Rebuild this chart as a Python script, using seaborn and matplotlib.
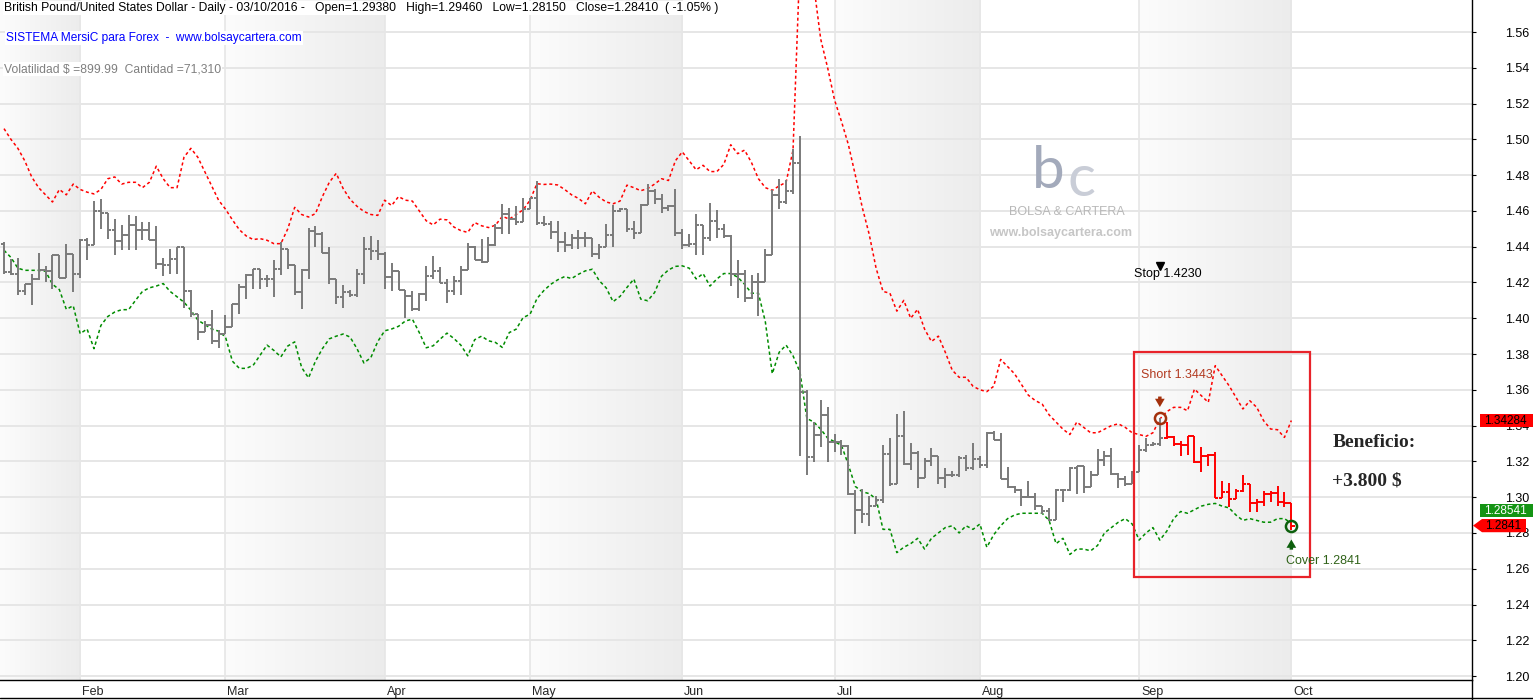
import numpy as np
import pandas as pd
import matplotlib
matplotlib.use("Agg")
import matplotlib.pyplot as plt
import matplotlib.transforms as mtransforms
from matplotlib.lines import Line2D
from matplotlib.patches import Rectangle, Polygon
from matplotlib.colors import LinearSegmentedColormap
import seaborn as sns

# ---------------- data ----------------
dates = pd.bdate_range("2016-01-15", "2016-10-03")

close = [
    1.4259, 1.4245, 1.4151, 1.4194, 1.4222, 1.4268, 1.4263, 1.4352, 1.4227, 1.4361,
    1.4250, 1.4436, 1.4412, 1.4600, 1.4591, 1.4496, 1.4432, 1.4468, 1.4524, 1.4492,
    1.4492, 1.4436, 1.4306, 1.4296, 1.4334, 1.4399, 1.4151, 1.4026, 1.3924, 1.3961,
    1.3871, 1.3914, 1.3952, 1.4082, 1.4175, 1.4240, 1.4278, 1.4222, 1.4222, 1.4278,
    1.4389, 1.4300, 1.4147, 1.4268, 1.4486, 1.4473, 1.4367, 1.4222, 1.4119, 1.4147,
    1.4129, 1.4250, 1.4389, 1.4375, 1.4361, 1.4231, 1.4264, 1.4159, 1.4122, 1.4051,
    1.4135, 1.4237, 1.4265, 1.4196, 1.4153, 1.4209, 1.4269, 1.4396, 1.4327, 1.4316,
    1.4409, 1.4502, 1.4582, 1.4554, 1.4539, 1.4610, 1.4670, 1.4535, 1.4526, 1.4483,
    1.4424, 1.4409, 1.4446, 1.4446, 1.4446, 1.4358, 1.4396, 1.4465, 1.4601, 1.4610,
    1.4498, 1.4476, 1.4632, 1.4712, 1.4666, 1.4619, 1.4629, 1.4474, 1.4410, 1.4417,
    1.4519, 1.4448, 1.4542, 1.4501, 1.4460, 1.4249, 1.4249, 1.4113, 1.4203, 1.4203,
    1.4352, 1.4687, 1.4650, 1.4709, 1.4870, 1.3590, 1.3224, 1.3345, 1.3461, 1.3308,
    1.3307, 1.3288, 1.3020, 1.2930, 1.2908, 1.2953, 1.2986, 1.3243, 1.3075, 1.3340,
    1.3188, 1.3247, 1.3107, 1.3201, 1.3229, 1.3107, 1.3126, 1.3126, 1.3219, 1.3163,
    1.3214, 1.3177, 1.3359, 1.3322, 1.3102, 1.3057, 1.3042, 1.3001, 1.3001, 1.2953,
    1.2921, 1.2875, 1.3042, 1.3042, 1.3163, 1.3176, 1.3057, 1.3126, 1.3206, 1.3229,
    1.3132, 1.3102, 1.3073, 1.3139, 1.3265, 1.3291, 1.3297, 1.3330, 1.3334, 1.3297,
    1.3291, 1.3340, 1.3195, 1.3232, 1.3236, 1.2996, 1.3027, 1.2989, 1.3036, 1.3073,
    1.2967, 1.2971, 1.3017, 1.3023, 1.2971, 1.2967, 1.2841,
]
high = [
    1.4427, 1.4334, 1.4337, 1.4194, 1.4250, 1.4367, 1.4293, 1.4356, 1.4356, 1.4414,
    1.4361, 1.4442, 1.4449, 1.4654, 1.4665, 1.4591, 1.4553, 1.4520, 1.4580, 1.4572,
    1.4539, 1.4539, 1.4514, 1.4337, 1.4389, 1.4399, 1.4324, 1.4157, 1.4007, 1.3983,
    1.4045, 1.3933, 1.4017, 1.4082, 1.4194, 1.4250, 1.4278, 1.4244, 1.4244, 1.4324,
    1.4427, 1.4389, 1.4300, 1.4278, 1.4505, 1.4516, 1.4483, 1.4399, 1.4222, 1.4185,
    1.4157, 1.4278, 1.4455, 1.4460, 1.4436, 1.4370, 1.4310, 1.4260, 1.4153, 1.4153,
    1.4140, 1.4293, 1.4349, 1.4284, 1.4219, 1.4237, 1.4293, 1.4420, 1.4405, 1.4442,
    1.4452, 1.4526, 1.4638, 1.4619, 1.4629, 1.4670, 1.4675, 1.4768, 1.4569, 1.4545,
    1.4545, 1.4480, 1.4470, 1.4494, 1.4483, 1.4414, 1.4414, 1.4526, 1.4632, 1.4619,
    1.4610, 1.4545, 1.4638, 1.4750, 1.4722, 1.4694, 1.4632, 1.4722, 1.4500, 1.4472,
    1.4585, 1.4519, 1.4646, 1.4603, 1.4529, 1.4467, 1.4324, 1.4268, 1.4240, 1.4255,
    1.4389, 1.4715, 1.4780, 1.4771, 1.4948, 1.5018, 1.3600, 1.3420, 1.3541, 1.3503,
    1.3355, 1.3322, 1.3294, 1.3042, 1.3046, 1.3005, 1.3009, 1.3294, 1.3331, 1.3467,
    1.3480, 1.3303, 1.3257, 1.3219, 1.3275, 1.3173, 1.3163, 1.3145, 1.3232, 1.3238,
    1.3300, 1.3229, 1.3363, 1.3368, 1.3359, 1.3169, 1.3061, 1.3046, 1.3089, 1.3024,
    1.2949, 1.2940, 1.3046, 1.3046, 1.3169, 1.3176, 1.3150, 1.3145, 1.3270, 1.3257,
    1.3275, 1.3135, 1.3120, 1.3148, 1.3290, 1.3329, 1.3306, 1.3443, 1.3420, 1.3344,
    1.3316, 1.3344, 1.3340, 1.3278, 1.3241, 1.3250, 1.3092, 1.3079, 1.3045, 1.3124,
    1.3064, 1.2989, 1.3036, 1.3036, 1.3064, 1.3027, 1.2946,
]
low = [
    1.4250, 1.4240, 1.4129, 1.4129, 1.4076, 1.4212, 1.4203, 1.4166, 1.4227, 1.4227,
    1.4147, 1.4225, 1.4324, 1.4412, 1.4501, 1.4445, 1.4352, 1.4380, 1.4380, 1.4380,
    1.4436, 1.4436, 1.4278, 1.4237, 1.4250, 1.4250, 1.4058, 1.4007, 1.3877, 1.3924,
    1.3858, 1.3834, 1.3914, 1.3952, 1.4026, 1.4106, 1.4166, 1.4166, 1.4175, 1.4119,
    1.4240, 1.4278, 1.4129, 1.4054, 1.4222, 1.4399, 1.4367, 1.4194, 1.4082, 1.4058,
    1.4119, 1.4119, 1.4194, 1.4324, 1.4324, 1.4166, 1.4150, 1.4159, 1.4004, 1.4042,
    1.4042, 1.4098, 1.4219, 1.4196, 1.4088, 1.4129, 1.4129, 1.4269, 1.4327, 1.4308,
    1.4405, 1.4405, 1.4470, 1.4470, 1.4521, 1.4573, 1.4610, 1.4521, 1.4513, 1.4442,
    1.4368, 1.4368, 1.4386, 1.4386, 1.4401, 1.4340, 1.4330, 1.4396, 1.4396, 1.4595,
    1.4480, 1.4442, 1.4480, 1.4632, 1.4638, 1.4591, 1.4601, 1.4461, 1.4389, 1.4398,
    1.4352, 1.4352, 1.4430, 1.4449, 1.4449, 1.4180, 1.4113, 1.4091, 1.4109, 1.4013,
    1.4203, 1.4352, 1.4613, 1.4640, 1.4696, 1.3229, 1.3122, 1.3196, 1.3280, 1.3199,
    1.3252, 1.3238, 1.3014, 1.2796, 1.2856, 1.2841, 1.2968, 1.2968, 1.3065, 1.3126,
    1.3182, 1.3154, 1.3052, 1.3126, 1.3173, 1.3076, 1.3052, 1.3113, 1.3113, 1.3145,
    1.3154, 1.3163, 1.3163, 1.3322, 1.3102, 1.3052, 1.3024, 1.2949, 1.3001, 1.2930,
    1.2908, 1.2865, 1.2871, 1.2971, 1.3033, 1.3020, 1.3024, 1.3113, 1.3182, 1.3176,
    1.3126, 1.3052, 1.3064, 1.3073, 1.3139, 1.3251, 1.3285, 1.3285, 1.3325, 1.3288,
    1.3232, 1.3235, 1.3191, 1.3139, 1.3176, 1.2993, 1.2993, 1.2943, 1.2989, 1.3031,
    1.2915, 1.2915, 1.2952, 1.2971, 1.2952, 1.2943, 1.2815,
]
upper_band = [
    1.506, 1.500, 1.495, 1.488, 1.479, 1.473, 1.469, 1.465, 1.472, 1.469,
    1.475, 1.472, 1.4705, 1.4695, 1.472, 1.478, 1.479, 1.475, 1.476, 1.476,
    1.473, 1.476, 1.485, 1.478, 1.473, 1.473, 1.490, 1.495, 1.490, 1.482,
    1.474, 1.466, 1.461, 1.455, 1.4495, 1.446, 1.444, 1.4445, 1.4436, 1.4417,
    1.4417, 1.450, 1.462, 1.458, 1.4566, 1.4585, 1.468, 1.476, 1.481, 1.4725,
    1.4665, 1.4626, 1.4597, 1.458, 1.4575, 1.466, 1.463, 1.468, 1.466, 1.4655,
    1.460, 1.4545, 1.4522, 1.4554, 1.455, 1.451, 1.449, 1.448, 1.4535, 1.4517,
    1.4507, 1.452, 1.457, 1.4554, 1.458, 1.4606, 1.466, 1.4752, 1.4748, 1.475,
    1.4745, 1.472, 1.469, 1.467, 1.464, 1.4712, 1.4676, 1.465, 1.464, 1.4655,
    1.4744, 1.473, 1.4713, 1.4725, 1.475, 1.478, 1.477, 1.488, 1.493, 1.488,
    1.483, 1.4855, 1.482, 1.482, 1.486, 1.497, 1.492, 1.494, 1.487, 1.478,
    1.473, 1.4715, 1.474, 1.476, 1.494, 1.600, 1.620, 1.586, 1.556, 1.540,
    1.522, 1.510, 1.497, 1.480, 1.462, 1.447, 1.428, 1.415, 1.414, 1.404,
    1.410, 1.400, 1.405, 1.394, 1.387, 1.390, 1.381, 1.371, 1.367, 1.367,
    1.362, 1.360, 1.359, 1.362, 1.377, 1.373, 1.369, 1.363, 1.357, 1.354,
    1.352, 1.346, 1.342, 1.338, 1.335, 1.342, 1.339, 1.336, 1.336, 1.338,
    1.340, 1.341, 1.339, 1.336, 1.335, 1.334, 1.336, 1.3437, 1.3478, 1.3502,
    1.3502, 1.3483, 1.3604, 1.3567, 1.353, 1.3735, 1.3679, 1.3623, 1.3558, 1.3493,
    1.3539, 1.3502, 1.3427, 1.3381, 1.3377, 1.3334, 1.34284,
]
lower_band = [
    1.438, 1.434, 1.428, 1.4268, 1.4268, 1.4268, 1.4263, 1.419, 1.416, 1.405,
    1.407, 1.3914, 1.394, 1.383, 1.396, 1.401, 1.4035, 1.4048, 1.4048, 1.410,
    1.415, 1.417, 1.418, 1.4194, 1.415, 1.412, 1.409, 1.4045, 1.399, 1.3965,
    1.394, 1.3928, 1.3895, 1.376, 1.372, 1.372, 1.3737, 1.3793, 1.385, 1.382,
    1.3784, 1.3845, 1.3868, 1.3725, 1.3667, 1.376, 1.383, 1.3885, 1.390, 1.3912,
    1.3895, 1.383, 1.375, 1.378, 1.387, 1.393, 1.394, 1.3955, 1.3985, 1.3995,
    1.392, 1.3835, 1.3846, 1.3883, 1.3917, 1.3887, 1.385, 1.379, 1.388, 1.390,
    1.3874, 1.3865, 1.3837, 1.392, 1.3939, 1.4004, 1.4022, 1.411, 1.4155, 1.419,
    1.4215, 1.4233, 1.4222, 1.4246, 1.4265, 1.4274, 1.421, 1.417, 1.4093, 1.4122,
    1.4172, 1.4219, 1.4107, 1.4098, 1.4144, 1.4235, 1.427, 1.429, 1.4293, 1.428,
    1.422, 1.425, 1.418, 1.422, 1.425, 1.425, 1.423, 1.419, 1.414, 1.414,
    1.398, 1.369, 1.381, 1.385, 1.379, 1.370, 1.344, 1.342, 1.338, 1.333,
    1.331, 1.329, 1.318, 1.306, 1.303, 1.302, 1.299, 1.282, 1.282, 1.269,
    1.272, 1.274, 1.277, 1.271, 1.277, 1.280, 1.283, 1.284, 1.280, 1.284,
    1.282, 1.285, 1.272, 1.279, 1.284, 1.288, 1.290, 1.291, 1.291, 1.291,
    1.291, 1.287, 1.274, 1.277, 1.268, 1.271, 1.271, 1.270, 1.273, 1.280,
    1.283, 1.286, 1.288, 1.285, 1.276, 1.280, 1.283, 1.276, 1.281, 1.288,
    1.292, 1.291, 1.293, 1.295, 1.296, 1.2965, 1.295, 1.294, 1.290, 1.287,
    1.288, 1.287, 1.286, 1.286, 1.288, 1.288, 1.28541,
]
first_open = 1.4417
short_date, short_price = "2016-09-06", 1.3443
cover_date, cover_price = "2016-10-03", 1.2841
stop_price = 1.4230
y_ticks = [1.20, 1.22, 1.24, 1.26, 1.28, 1.30, 1.32, 1.34, 1.36, 1.38,
           1.40, 1.42, 1.44, 1.46, 1.48, 1.50, 1.52, 1.54, 1.56]
title_txt = ("British Pound/United States Dollar - Daily - 03/10/2016 -   Open=1.29380   "
             "High=1.29460   Low=1.28150   Close=1.28410  ( -1.05% )")
system_txt = "SISTEMA MersiC para Forex  -  www.bolsaycartera.com"
vol_txt = "Volatilidad $ =899.99  Cantidad =71,310"
profit_lines = ["Beneficio:", "+3.800 $"]

assert len(dates) == len(close) == len(high) == len(low) == len(upper_band) == len(lower_band)

# ---------------- figure ----------------
sns.set_style("white")
plt.rcParams["font.family"] = ["Liberation Sans", "DejaVu Sans"]

W, H = 1533, 700
fig = plt.figure(figsize=(W / 100, H / 100), dpi=100)
ax = fig.add_axes([0, 20 / H, 1472 / W, 680 / H])

idx = np.arange(len(close))
close_a = np.array(close)
opens = np.concatenate([[first_open], close_a[:-1]])
high_a = np.maximum(np.array(high), np.maximum(opens, close_a))
low_a = np.minimum(np.array(low), np.minimum(opens, close_a))

x_left, x_right = -0.58, 212.1
y_lo, y_hi = 1.1978, 1.5779

month_start = {}
for i, d in enumerate(dates):
    key = (d.year, d.month)
    if key not in month_start:
        month_start[key] = i
months = sorted(month_start)
tick_idx = [month_start[m] for m in months[1:]]
tick_lab = [dates[month_start[m]].strftime("%b") for m in months[1:]]

# shaded alternating months (gradient)
cmap = LinearSegmentedColormap.from_list("shade", ["#fcfcfc", "#ececec"])
grad = np.linspace(0, 1, 256).reshape(1, -1)
for k, m in enumerate(months):
    if m[1] % 2 == 1:
        a = month_start[m] if k > 0 else x_left
        b = month_start[months[k + 1]] if k + 1 < len(months) else idx[-1]
        ax.imshow(grad, extent=[a, b, y_lo, y_hi], aspect="auto", cmap=cmap,
                  interpolation="bilinear", zorder=0)

# grid
for yv in y_ticks:
    ax.axhline(yv, color="#e6e6e6", lw=1.4, zorder=0.5)
for xv in tick_idx:
    ax.axvline(xv, color="#e6e6e6", lw=1.2, zorder=0.5)

# bands
sns.lineplot(x=idx, y=upper_band, ax=ax, color="#ff0000", lw=1.1,
             linestyle=(0, (2.0, 1.8)), zorder=2)
sns.lineplot(x=idx, y=lower_band, ax=ax, color="#008c00", lw=1.1,
             linestyle=(0, (2.2, 1.8)), zorder=2)

# OHLC bars
short_idx = int(np.where(dates == pd.Timestamp(short_date))[0][0])
cover_idx = int(np.where(dates == pd.Timestamp(cover_date))[0][0])
cols = ["#7a7a7a" if i <= short_idx else "#ff0000" for i in idx]
ax.vlines(idx, low_a, high_a, colors=cols, lw=1.4, zorder=3)
ax.hlines(opens, idx - 0.47, idx, colors=cols, lw=1.4, zorder=3)
ax.hlines(close_a, idx, idx + 0.47, colors=cols, lw=1.4, zorder=3)

ax.set_xlim(x_left, x_right)
ax.set_ylim(y_lo, y_hi)

# trade box
ax.add_patch(Rectangle((short_idx - 3.7, cover_price - 0.0288),
                       (cover_idx + 2.7) - (short_idx - 3.7),
                       (short_price + 0.0368) - (cover_price - 0.0288),
                       fill=False, ec="#e8232a", lw=1.6, zorder=4))

brown = "#a3300c"
green = "#0d5f0d"
ax.plot([short_idx], [short_price], "o", mfc="none", mec=brown, ms=8, mew=1.8, zorder=5)
ax.annotate("", xy=(short_idx, short_price + 0.0045), xytext=(short_idx, short_price + 0.0135),
            arrowprops=dict(arrowstyle="simple,head_width=0.7,head_length=0.6,tail_width=0.25",
                            fc=brown, ec="none", mutation_scale=10), zorder=5)
ax.text(short_idx + 2.4, short_price + 0.0240, f"Short {short_price:.4f}", color="#b23a20",
        fontsize=9, ha="center", va="center", zorder=5)

ax.plot([cover_idx], [cover_price], "o", mfc="none", mec=green, ms=8, mew=1.8, zorder=5)
ax.annotate("", xy=(cover_idx, cover_price - 0.0062), xytext=(cover_idx, cover_price - 0.0150),
            arrowprops=dict(arrowstyle="simple,head_width=0.7,head_length=0.6,tail_width=0.25",
                            fc=green, ec="none", mutation_scale=10), zorder=5)
ax.text(cover_idx + 4.6, cover_price - 0.0198, f"Cover {cover_price:.4f}", color="#2f6218",
        fontsize=9, ha="center", va="center", zorder=5)

ax.plot([short_idx], [stop_price + 0.0062], marker="v", color="black", ms=6, zorder=5)
ax.text(short_idx - 3.8, stop_price, f"Stop {stop_price:.4f}", color="black",
        fontsize=9, ha="left", va="baseline", zorder=5)

ax.text(191.9, 1.3303, profit_lines[0], fontsize=14, fontweight="bold",
        family="Liberation Serif", ha="left", va="center", zorder=5)
ax.text(191.9, 1.3091, profit_lines[1], fontsize=14, fontweight="bold",
        family="Liberation Serif", ha="left", va="center", zorder=5)

# watermark
ax.text(1048 / W, 1 - 172 / H, "b", transform=fig.transFigure, fontsize=42, color="#a3aabb",
        family=["Lato", "DejaVu Sans"], ha="center", va="center", zorder=1)
ax.text(1082 / W, 1 - 179 / H, "c", transform=fig.transFigure, fontsize=42, color="#c9cdd7",
        family=["Lato", "DejaVu Sans"], ha="center", va="center", zorder=1)
ax.text(1067 / W, 1 - 212 / H, "BOLSA & CARTERA", transform=fig.transFigure, fontsize=9,
        color="#b8b8b8", ha="center", va="center", zorder=1)
ax.text(1061 / W, 1 - 233 / H, "www.bolsaycartera.com", transform=fig.transFigure, fontsize=9,
        color="#c6c6c6", fontweight="bold", ha="center", va="center", zorder=1)

# axes styling
ax.yaxis.tick_right()
ax.set_yticks(y_ticks)
ax.set_yticklabels([f"{v:.2f}" for v in y_ticks])
ax.tick_params(axis="y", direction="out", length=3, width=0.8, pad=20.5, labelsize=9,
               colors="black")
ax.set_xticks(tick_idx)
ax.set_xticklabels(tick_lab)
ax.tick_params(axis="x", direction="out", length=3.5, width=0.8, pad=0.5, labelsize=9)
for lab in ax.get_xticklabels():
    lab.set_horizontalalignment("left")
    lab.set_transform(lab.get_transform() + mtransforms.ScaledTranslation(2 / 100, 0, fig.dpi_scale_trans))
for s in ["left", "top"]:
    ax.spines[s].set_visible(False)
for s in ["right", "bottom"]:
    ax.spines[s].set_color("black")
    ax.spines[s].set_linewidth(1.0)
ax.set_xlabel("")
ax.set_ylabel("")

# price tags on the right axis
trans = mtransforms.blended_transform_factory(ax.transAxes, ax.transData)
px = 1 / 1472
hh = 0.0037
u_last, l_last = upper_band[-1], lower_band[-1]
ax.add_patch(Rectangle((1480 * px, u_last - hh), 53 * px, 2 * hh, transform=trans,
                       fc="#ff0000", ec="none", clip_on=False, zorder=10))
ax.text(1505 * px, u_last, f"{u_last:.5f}", transform=trans, ha="center", va="center",
        fontsize=8.5, color="black", clip_on=False, zorder=11)
g_y = l_last + 0.0071
ax.add_patch(Rectangle((1480 * px, g_y - hh), 53 * px, 2 * hh, transform=trans,
                       fc="#149414", ec="none", clip_on=False, zorder=10))
ax.text(1505 * px, g_y, f"{l_last:.5f}", transform=trans, ha="center", va="center",
        fontsize=8.5, color="white", clip_on=False, zorder=11)
c_last = close[-1]
ax.add_patch(Polygon([(1473 * px, c_last), (1482 * px, c_last + hh), (1526 * px, c_last + hh),
                      (1526 * px, c_last - hh), (1482 * px, c_last - hh)], closed=True,
                     transform=trans, fc="#ff0000", ec="none", clip_on=False, zorder=10))
ax.text(1503 * px, c_last, f"{c_last:.4f}", transform=trans, ha="center", va="center",
        fontsize=8.5, color="black", clip_on=False, zorder=11)

# header texts
box = dict(boxstyle="square,pad=0.1", fc="white", ec="none")
fig.text(4 / W, 1 - 8 / H, title_txt, fontsize=8.7, color="black", ha="left", va="center", bbox=box)
fig.text(6 / W, 1 - 38 / H, system_txt, fontsize=8.6, color="#0000ff", ha="left", va="center", bbox=box)
fig.text(4 / W, 1 - 69 / H, vol_txt, fontsize=8.7, color="#808080", ha="left", va="center", bbox=box)

# frame lines below the axis
fig.add_artist(Line2D([0, 1], [2.5 / H, 2.5 / H], color="black", lw=1.0, transform=fig.transFigure))
fig.add_artist(Line2D([1472 / W, 1472 / W], [0, 20 / H], color="black", lw=1.0, transform=fig.transFigure))

fig.savefig("out.png", dpi=100, facecolor="white")
